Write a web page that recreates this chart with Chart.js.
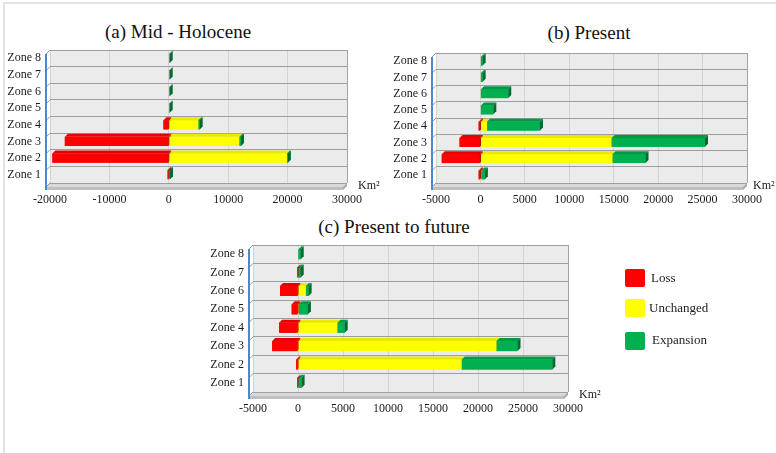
<!DOCTYPE html>
<html>
<head>
<meta charset="utf-8">
<title>Zone area change</title>
<script src="https://cdn.jsdelivr.net/npm/chart.js@4.4.1/dist/chart.umd.min.js"></script>
<style>
    body { margin: 0; background: #fff; font-family: "Liberation Serif", "Times New Roman", serif; }
    #page { position: relative; width: 776px; height: 453px; overflow: hidden; }
    .frame { position: absolute; left: 3px; top: 2px; width: 800px; height: 500px;
             border-top: 2px solid #e3e3e1; border-left: 2px solid #e3e3e1; }
    canvas { position: absolute; }
    .title { position: absolute; width: 240px; text-align: center; font-size: 19px; line-height: 24px; color: #111; }
    .legend-box { position: absolute; left: 625px; width: 20px; height: 18px; border-radius: 2px; }
    .legend-text { position: absolute; font-size: 13px; line-height: 18px; color: #222; }
</style>
</head>
<body>
<div id="page">
    <div class="frame"></div>

    <div class="title" style="left:58px; top:20px;">(a) Mid - Holocene</div>
    <div class="title" style="left:469px; top:21px;">(b) Present</div>
    <div class="title" style="left:274px; top:215px;">(c) Present to future</div>

    <canvas id="chartMid" width="380" height="212" style="left:0; top:0;"></canvas>
    <canvas id="chartPresent" width="391" height="212" style="left:385px; top:0;"></canvas>
    <canvas id="chartFuture" width="415" height="212" style="left:190px; top:210px;"></canvas>

    <div class="legend-box" style="top:269px; background:#ff0000;"></div>
    <div class="legend-text" style="left:651px; top:269px;">Loss</div>
    <div class="legend-box" style="top:299px; background:#ffff00;"></div>
    <div class="legend-text" style="left:649px; top:299px;">Unchanged</div>
    <div class="legend-box" style="top:332px; background:#00b050;"></div>
    <div class="legend-text" style="left:652px; top:331px;">Expansion</div>
</div>

<script>
// Categories (Zone 1 at the bottom)
const zones = ['Zone 1', 'Zone 2', 'Zone 3', 'Zone 4', 'Zone 5', 'Zone 6', 'Zone 7', 'Zone 8'];

// (a) Mid - Holocene, km2
const midLoss = [-200, -19600, -17500, -900, 0, 0, 0, 0];
const midUnchanged = [0, 19900, 11900, 5000, 0, 0, 0, 0];
const midExpansion = [200, 150, 250, 200, 150, 150, 150, 150];

// (b) Present, km2
const presentLoss = [-200, -4350, -2350, -200, 0, 0, 0, 0];
const presentUnchanged = [100, 14880, 14770, 750, 0, 0, 0, 0];
const presentExpansion = [400, 3700, 10500, 5950, 1450, 3130, 250, 250];

// (c) Present to future, km2
const futureLoss = [-100, -200, -2870, -2100, -700, -2000, -100, 0];
const futureUnchanged = [0, 18200, 22070, 4400, 100, 880, 0, 0];
const futureExpansion = [400, 10060, 2320, 790, 1000, 300, 300, 300];

// Series names and colours (front face, top face, side face)
const seriesNames = ['Loss', 'Unchanged', 'Expansion'];
const frontColors = ['#ff0000', '#ffff00', '#00b050'];
const topColors = ['#e80000', '#e8e800', '#009a45'];
const sideColors = ['#b00000', '#b8b800', '#006a30'];

const textColor = '#1a1a1a';
const DEPTH = 3;

// Back wall, floor and the blue front axis of the fake 3D box
const wallPlugin = {
    id: 'wall3d',
    beforeDraw(chart) {
        const { ctx, chartArea: a } = chart;
        ctx.save();
        ctx.fillStyle = '#ebebeb';
        ctx.fillRect(a.left, a.top, a.right - a.left, a.bottom - a.top);

        // floor
        const d = 4;
        ctx.fillStyle = '#d9d9d9';
        ctx.beginPath();
        ctx.moveTo(a.left, a.bottom);
        ctx.lineTo(a.right, a.bottom);
        ctx.lineTo(a.right - d, a.bottom + d);
        ctx.lineTo(a.left - d, a.bottom + d);
        ctx.closePath();
        ctx.fill();
        ctx.fillStyle = '#bfbfbf';
        ctx.fillRect(a.left - d, a.bottom + d, a.right - a.left, 3);
        ctx.fillStyle = '#a9a9a9';
        ctx.beginPath();
        ctx.moveTo(a.right, a.bottom);
        ctx.lineTo(a.right, a.bottom + 3);
        ctx.lineTo(a.right - d, a.bottom + d + 3);
        ctx.lineTo(a.right - d, a.bottom + d);
        ctx.closePath();
        ctx.fill();

        // blue axis line with slanted ticks at zone boundaries
        const rowH = (a.bottom - a.top) / zones.length;
        ctx.strokeStyle = '#9a9a9a';
        ctx.lineWidth = 1;
        for (let i = 0; i <= zones.length; i++) {
            const yy = a.top + i * rowH;
            ctx.beginPath();
            ctx.moveTo(a.left - d, yy + d);
            ctx.lineTo(a.left, yy);
            ctx.stroke();
        }
        ctx.strokeStyle = '#4f86d0';
        ctx.lineWidth = 2;
        ctx.beginPath();
        ctx.moveTo(a.left - d, a.top + d);
        ctx.lineTo(a.left - d, a.bottom + d + 3);
        ctx.stroke();
        ctx.restore();
    },
    afterDatasetsDraw(chart) {
        // redraw the bars left to right with a top and a side face
        const { ctx } = chart;
        ctx.save();
        chart.data.datasets.forEach((ds, i) => {
            const meta = chart.getDatasetMeta(i);
            meta.data.forEach(bar => {
                const { x, y, base, height } = bar.getProps(['x', 'y', 'base', 'height'], true);
                if (Math.abs(x - base) < 0.01) return;
                const left = Math.min(x, base);
                const right = Math.max(x, base);
                const top = y - height / 2;
                const bottom = y + height / 2;

                ctx.fillStyle = frontColors[i];
                ctx.fillRect(left, top, right - left, bottom - top);

                ctx.fillStyle = topColors[i];
                ctx.beginPath();
                ctx.moveTo(left, top);
                ctx.lineTo(left + DEPTH, top - DEPTH);
                ctx.lineTo(right + DEPTH, top - DEPTH);
                ctx.lineTo(right, top);
                ctx.closePath();
                ctx.fill();

                ctx.fillStyle = sideColors[i];
                ctx.beginPath();
                ctx.moveTo(right, top);
                ctx.lineTo(right + DEPTH, top - DEPTH);
                ctx.lineTo(right + DEPTH, bottom - DEPTH);
                ctx.lineTo(right, bottom);
                ctx.closePath();
                ctx.fill();
            });
        });
        ctx.restore();
    },
    afterDraw(chart) {
        // unit label at the end of the value axis
        const { ctx, chartArea: a } = chart;
        ctx.save();
        ctx.fillStyle = textColor;
        ctx.font = '12px "Liberation Serif", serif';
        ctx.textBaseline = 'middle';
        ctx.fillText('Km²', a.right + chart.options.unitGap, a.bottom + 3);
        ctx.restore();
    }
};

// Build one stacked horizontal bar chart
function makeChart(canvasId, loss, unchanged, expansion, opts) {
    const ctx = document.getElementById(canvasId).getContext('2d');
    const values = [loss, unchanged, expansion];

    return new Chart(ctx, {
        type: 'bar',
        data: {
            labels: zones,
            datasets: values.map((v, i) => ({
                label: seriesNames[i],
                data: v,
                backgroundColor: frontColors[i],
                borderWidth: 0,
                barPercentage: 0.55,
                categoryPercentage: 1
            }))
        },
        options: {
            indexAxis: 'y',
            responsive: false,
            animation: false,
            unitGap: opts.unitGap,
            layout: {
                padding: { top: opts.top, right: opts.right, left: 0, bottom: 0 }
            },
            plugins: {
                legend: { display: false },
                tooltip: { enabled: false }
            },
            scales: {
                x: {
                    type: 'linear',
                    stacked: true,
                    min: opts.min,
                    max: opts.max,
                    ticks: {
                        stepSize: opts.step,
                        color: textColor,
                        padding: 10,
                        maxRotation: 0,
                        autoSkip: false,
                        font: { family: '"Liberation Serif", serif', size: 12 },
                        callback: value => value
                    },
                    grid: {
                        drawTicks: false,
                        color: c => (c.tick && c.tick.value === opts.max) ? '#a3a3a3' : '#d3d3d3'
                    },
                    border: { display: false },
                    afterFit: scale => { scale.height = opts.xHeight; }
                },
                y: {
                    stacked: true,
                    reverse: true,
                    ticks: {
                        color: textColor,
                        padding: 9,
                        autoSkip: false,
                        font: { family: '"Liberation Serif", serif', size: 12 }
                    },
                    grid: { offset: true, drawTicks: false, color: '#9e9e9e' },
                    border: { display: false },
                    afterFit: scale => { scale.width = opts.yWidth; }
                }
            }
        },
        plugins: [wallPlugin]
    });
}

document.addEventListener('DOMContentLoaded', () => {
    makeChart('chartMid', midLoss, midUnchanged, midExpansion,
        { min: -20000, max: 30000, step: 10000, top: 50, right: 33, yWidth: 50, xHeight: 29, unitGap: 11 });
    makeChart('chartPresent', presentLoss, presentUnchanged, presentExpansion,
        { min: -5000, max: 30000, step: 5000, top: 53, right: 29, yWidth: 51, xHeight: 29, unitGap: 6 });
    makeChart('chartFuture', futureLoss, futureUnchanged, futureExpansion,
        { min: -5000, max: 30000, step: 5000, top: 35, right: 37, yWidth: 63, xHeight: 30, unitGap: 11 });
});
</script>
</body>
</html>
